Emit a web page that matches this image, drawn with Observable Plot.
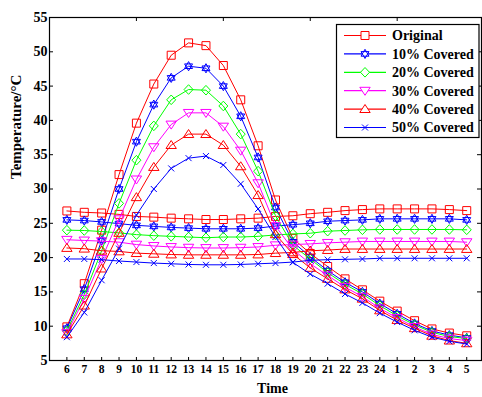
<!DOCTYPE html>
<html><head><meta charset="utf-8">
<script src="https://cdn.jsdelivr.net/npm/d3@7"></script>
<script src="https://cdn.jsdelivr.net/npm/@observablehq/plot@0.6"></script>
<style>
body{margin:0;background:#fff}
#wrap{position:relative;width:482px;height:397px}
</style>
</head><body><div id="wrap"></div>
<script>
// ---- data ----
const hourLabels = ["6","7","8","9","10","11","12","13","14","15","16","17","18","19","20","21","22","23","24","1","2","3","4","5"];
const seriesNames = ["Original","10% Covered","20% Covered","30% Covered","40% Covered","50% Covered"];
const seriesColors = ["#ff0000","#0000ff","#00ff00","#ff00ff","#ff0000","#0000ff"];
const yTicks = [5,10,15,20,25,30,35,40,45,50,55];
const topTicks = [5,10,15,20];
const yTitle = "Temperature/°C";
const xTitle = "Time";

// peaked curves
const peakOriginal = [9.9,16.2,24.0,32.1,39.6,45.3,49.5,51.3,50.9,48.0,43.0,36.3,28.4,22.8,20.6,18.7,16.9,15.3,13.65,12.2,10.8,9.6,9.0,8.6];
const peak10 = [9.7,15.4,22.5,30.0,36.9,42.3,46.2,47.9,47.6,45.0,40.6,34.6,27.3,22.3,20.1,18.1,16.4,15.0,13.3,11.8,10.4,9.3,8.7,8.3];
const peak20 = [9.3,14.6,21.0,27.9,34.2,39.2,43.0,44.5,44.4,42.1,38.0,32.6,26.1,21.8,19.8,17.8,16.1,14.7,13.0,11.5,10.2,9.1,8.5,8.2];
const peak30 = [9.0,14.0,19.8,25.6,31.4,36.1,39.4,41.1,41.1,39.1,35.6,30.85,24.6,21.2,19.1,17.4,15.7,14.3,12.6,11.2,9.9,8.8,8.2,7.9];
const peak40 = [8.8,13.0,18.4,23.6,28.8,33.2,36.4,38.0,38.0,36.4,33.3,29.1,23.4,20.5,18.5,16.9,15.35,14.0,12.3,10.9,9.7,8.6,7.9,7.5];
const peak50 = [8.4,12.0,16.7,21.3,26.2,30.0,33.0,34.5,34.8,33.5,30.75,27.1,23.0,19.3,17.6,16.2,14.7,13.4,11.9,10.6,9.4,8.4,7.8,7.4];
// flat curves
const flatOriginal = [26.8,26.6,26.5,26.3,26.0,25.9,25.75,25.65,25.55,25.55,25.65,25.75,26.0,26.1,26.4,26.6,26.85,27.0,27.1,27.1,27.1,27.1,27.0,26.85];
const flat10 = [25.5,25.4,25.2,24.95,24.7,24.55,24.4,24.3,24.2,24.2,24.2,24.3,24.6,24.8,25.0,25.3,25.4,25.5,25.65,25.65,25.65,25.65,25.65,25.5];
const flat20 = [24.0,23.95,23.8,23.6,23.35,23.2,23.1,23.0,22.9,23.0,23.0,23.1,23.3,23.45,23.55,23.85,23.95,24.05,24.1,24.1,24.1,24.1,24.1,24.05];
const flat30 = [22.6,22.5,22.4,22.25,21.9,21.7,21.55,21.45,21.4,21.4,21.45,21.55,21.8,21.9,22.0,22.15,22.25,22.35,22.35,22.35,22.35,22.35,22.35,22.25];
const flat40 = [21.4,21.3,21.0,20.9,20.65,20.55,20.45,20.4,20.4,20.4,20.4,20.45,20.65,20.75,21.0,21.1,21.25,21.25,21.25,21.25,21.25,21.25,21.25,21.25];
const flat50 = [19.8,19.8,19.7,19.5,19.35,19.2,19.1,19.0,18.95,18.95,19.0,19.1,19.2,19.35,19.6,19.7,19.75,19.8,19.9,19.9,19.9,19.9,19.9,19.9];

const peaks = [peakOriginal,peak10,peak20,peak30,peak40,peak50];
const flats = [flatOriginal,flat10,flat20,flat30,flat40,flat50];

// ---- marker shapes ----
const symSquare = {draw(c){c.moveTo(-4,-4);c.lineTo(4,-4);c.lineTo(4,4);c.lineTo(-4,4);c.closePath();}};
const symHex = {draw(c){
  const R=4.6;
  // two overlapping triangles (hexagram)
  for (const s of [1,-1]) {
    for (let i=0;i<3;i++){const a=s*(-Math.PI/2)+i*2*Math.PI/3;const x=R*Math.cos(a),y=R*Math.sin(a);i?c.lineTo(x,y):c.moveTo(x,y);}
    c.closePath();
  }
}};
const symDiamond = {draw(c){c.moveTo(0,-4.8);c.lineTo(4.5,0);c.lineTo(0,4.8);c.lineTo(-4.5,0);c.closePath();}};
const symTriDown = {draw(c){c.moveTo(-5.2,-3.4);c.lineTo(5.2,-3.4);c.lineTo(0,4.6);c.closePath();}};
const symTriUp = {draw(c){c.moveTo(-5.2,3.4);c.lineTo(5.2,3.4);c.lineTo(0,-4.6);c.closePath();}};
const symX = {draw(c){c.moveTo(-3,-3);c.lineTo(3,3);c.moveTo(-3,3);c.lineTo(3,-3);}};
const seriesSymbols = [symSquare,symHex,symDiamond,symTriDown,symTriUp,symX];

// ---- layout ----
const W = 482, H = 397, mL = 49, mR = 1, mT = 17, mB = 37;
const plotW = W - mL - mR, plotH = H - mT - mB;
const xPos = hourLabels.map((d,i)=>i+1);
const font = "'Liberation Serif','Times New Roman',serif";

const marks = [];
seriesNames.forEach((name,k)=>{
  for (const vals of [peaks[k], flats[k]]) {
    const rows = vals.map((v,i)=>({x:i+1, y:v}));
    marks.push(Plot.line(rows,{x:"x",y:"y",stroke:seriesColors[k],strokeWidth:1}));
    marks.push(Plot.dot(rows,{x:"x",y:"y",stroke:seriesColors[k],fill:"none",symbol:seriesSymbols[k],r:4.5,strokeWidth:1}));
  }
});

const chart = Plot.plot({
  width: W, height: H,
  marginLeft: mL, marginRight: mR, marginTop: mT, marginBottom: mB,
  style: {fontFamily: font, fontWeight: "bold", background: "white", overflow: "visible"},
  x: {type: "linear", domain: [0, 24.85]},
  y: {domain: [5, 55]},
  marks: [
    Plot.axisY({ticks: yTicks, tickSize: 0, tickPadding: 2, fontSize: 14, fontWeight: "bold", label: null}),
    Plot.axisX({ticks: xPos, tickFormat: d => hourLabels[d-1], tickSize: 0, tickPadding: 4, fontSize: 11.5, fontWeight: "bold", label: null}),
    Plot.ruleY(yTicks.slice(1,-1), {stroke:"black", insetRight: plotW - 4}),
    Plot.ruleY(yTicks.slice(1,-1), {stroke:"black", insetLeft: plotW - 4}),
    Plot.ruleX(xPos, {stroke:"black", insetTop: plotH - 3}),
    Plot.ruleX(topTicks, {stroke:"black", insetBottom: plotH - 4}),
    ...marks,
    Plot.frame({stroke:"black", strokeWidth: 1.2}),
    Plot.text([yTitle], {text: d=>d, frameAnchor:"left", dx:-33, dy:-10, rotate:-90, fontSize:15, fontWeight:"bold", fill:"black", lineAnchor:"middle"}),
    Plot.text([xTitle], {text: d=>d, frameAnchor:"bottom", dx:7, dy:28, fontSize:14, fontWeight:"bold", fill:"black", lineAnchor:"middle"})
  ]
});
const wrap = document.getElementById("wrap");
wrap.appendChild(chart);

// ---- legend overlay ----
const lg = d3.select(wrap).append("svg")
  .attr("width", W).attr("height", H)
  .style("position","absolute").style("left","0px").style("top","0px")
  .style("font-family", font).style("font-weight","bold");
lg.append("rect").attr("x",336.5).attr("y",24.5).attr("width",142.5).attr("height",113)
  .attr("fill","white").attr("stroke","black").attr("stroke-width",1.2);
seriesNames.forEach((name,k)=>{
  const cy = 35.5 + k*18.4;
  lg.append("line").attr("x1",344).attr("x2",386).attr("y1",cy).attr("y2",cy)
    .attr("stroke",seriesColors[k]).attr("stroke-width",1.2);
  lg.append("path").attr("d", d3.symbol(seriesSymbols[k], 64)())
    .attr("transform",`translate(365,${cy})`).attr("fill","white").attr("stroke",seriesColors[k]);
  lg.append("text").attr("x",392).attr("y",cy).attr("dy","0.35em").attr("font-size",14)
    .attr("fill","black").text(name);
});
</script>
</body></html>
